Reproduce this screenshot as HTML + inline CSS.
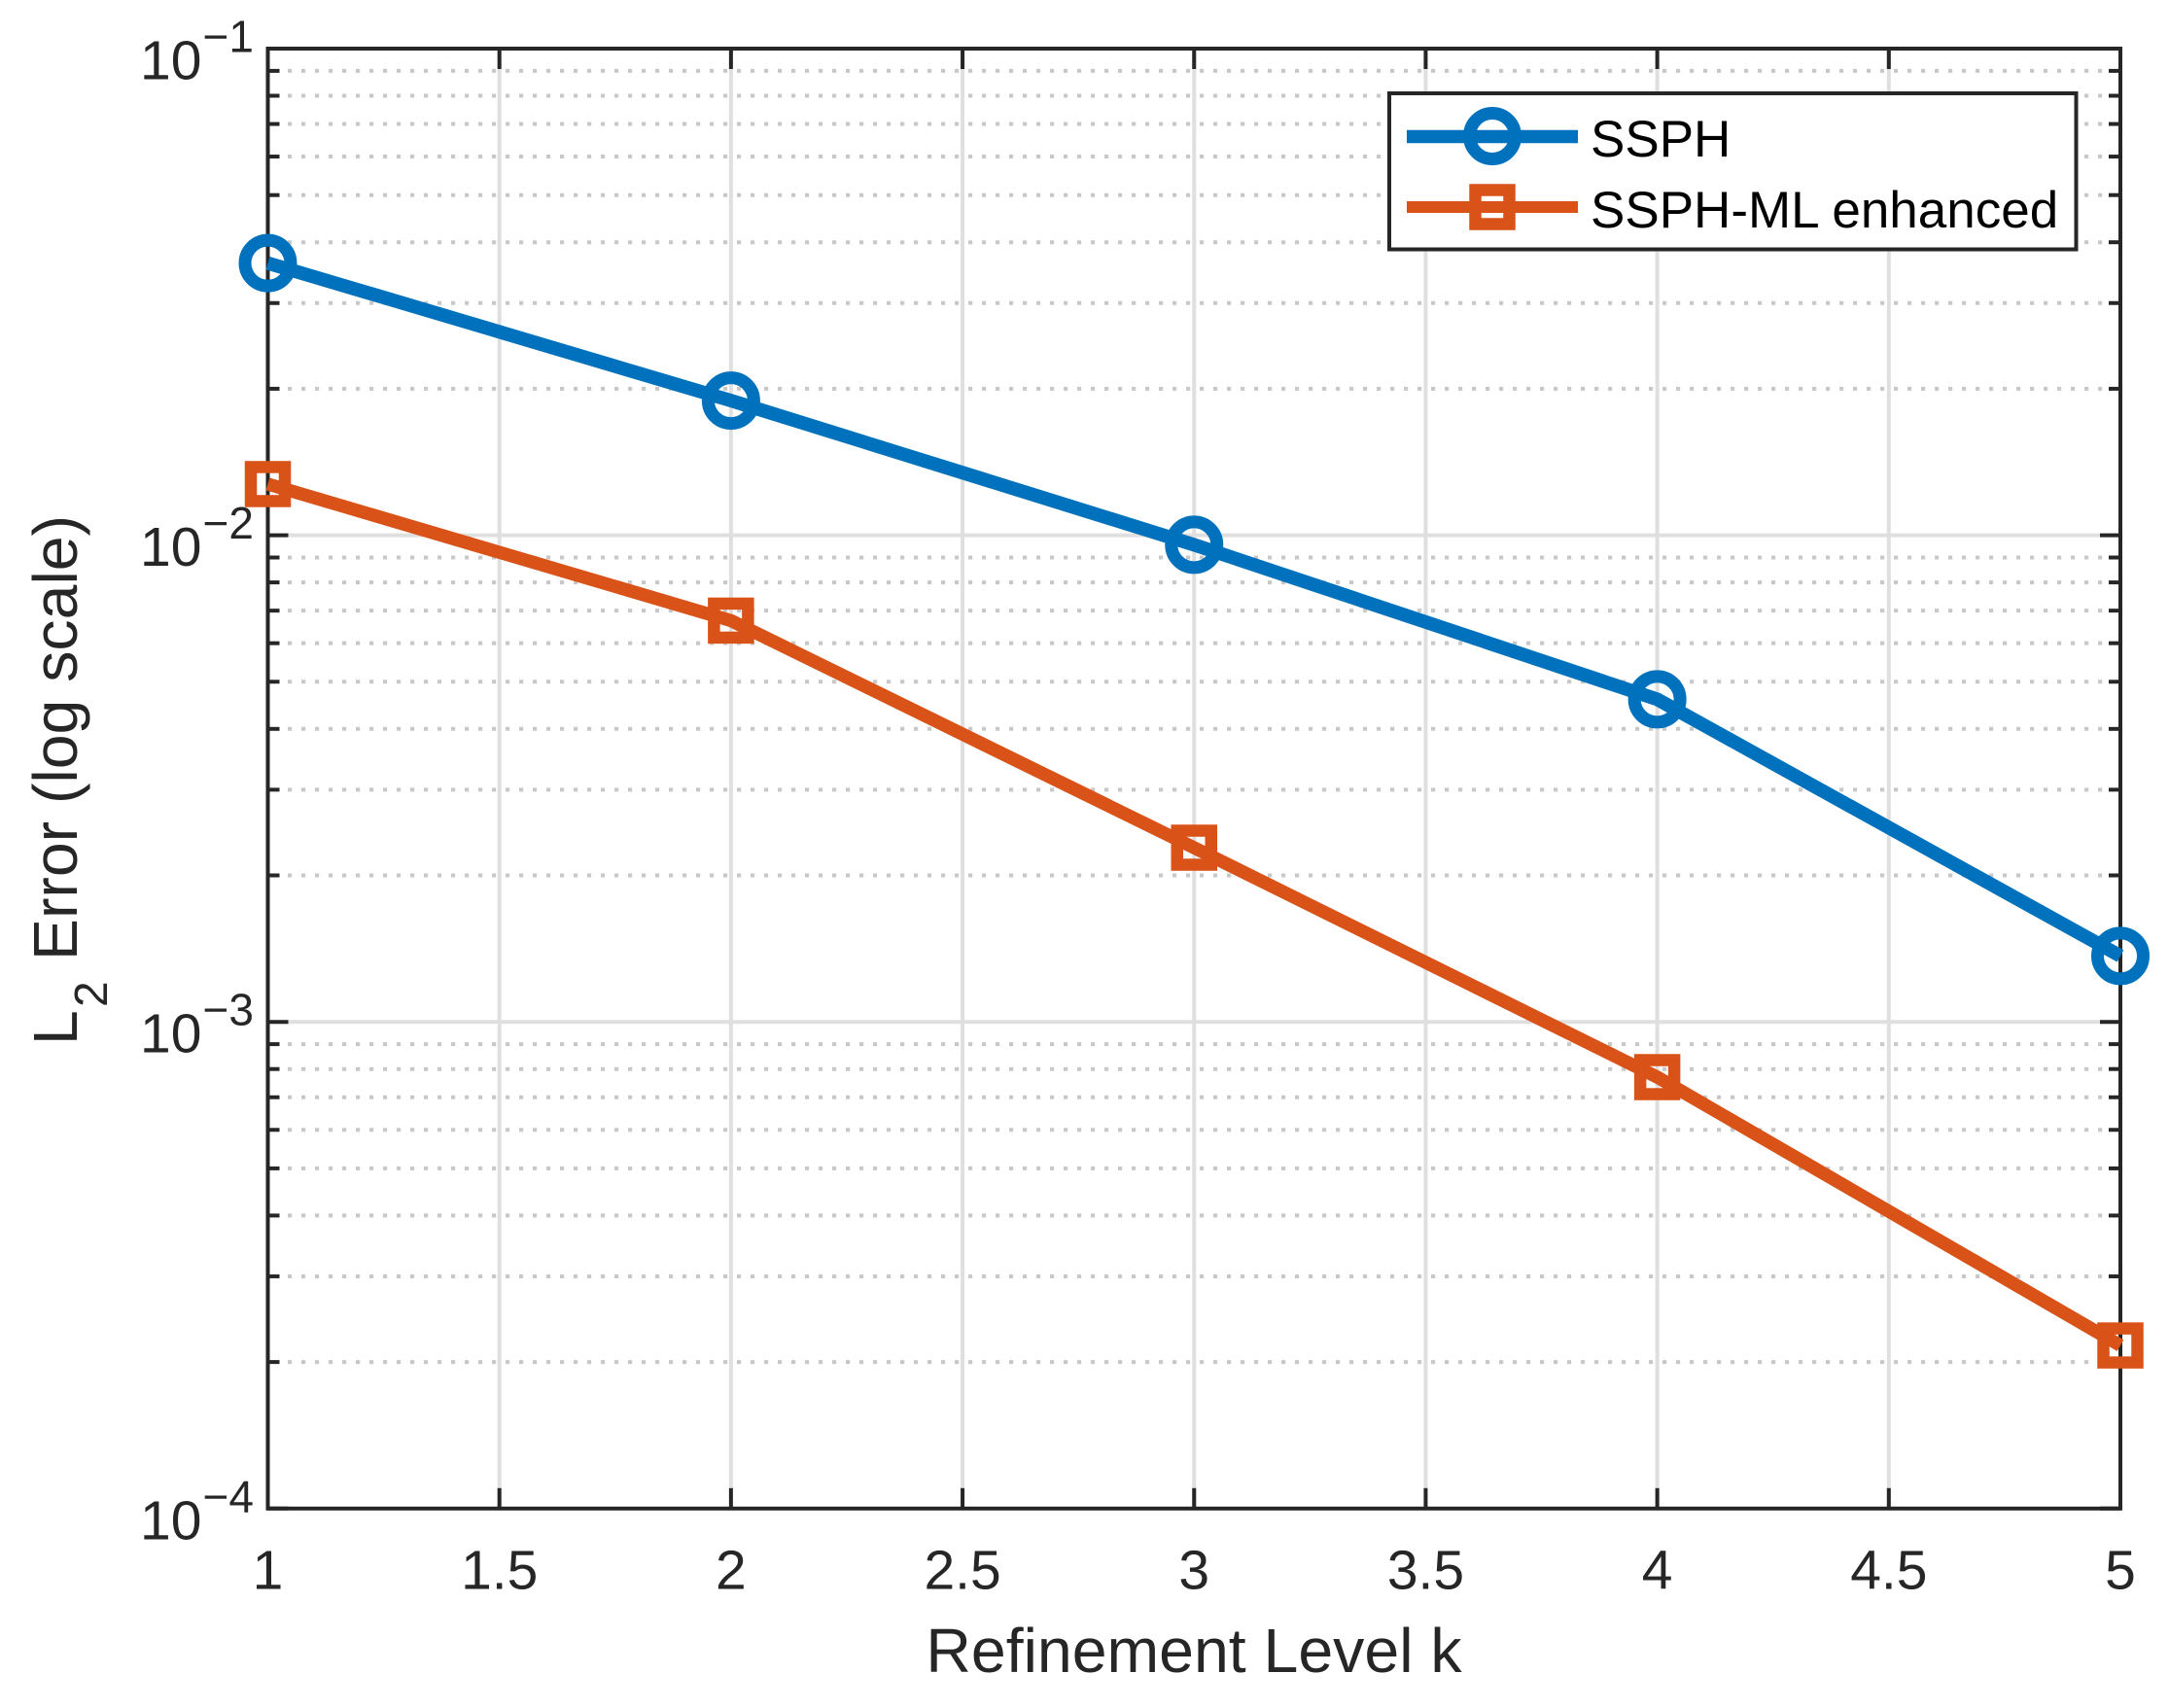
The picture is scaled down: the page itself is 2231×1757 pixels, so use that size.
<!DOCTYPE html>
<html lang="en">
<head>
<meta charset="utf-8">
<title>L2 error vs refinement level</title>
<style>
html,body{margin:0;padding:0;background:#fff;}
svg{display:block;}
text{font-family:"Liberation Sans",Arial,sans-serif;fill:#262626;}
</style>
</head>
<body>
<svg id="chart" xmlns="http://www.w3.org/2000/svg" width="2231" height="1757" viewBox="0 0 2231 1757">
  <rect x="0" y="0" width="2231" height="1757" fill="#ffffff"/>
  <g id="grid"></g>
  <g id="axes"></g>
  <text x="1228" y="1720" font-size="64.4" text-anchor="middle">Refinement Level k</text>
  <g>
    <text transform="translate(79,1075) rotate(-90)" font-size="64.4">L</text>
    <text transform="translate(110,1036) rotate(-90)" font-size="48">2</text>
    <text transform="translate(79,988) rotate(-90)" font-size="64.4">Error (log scale)</text>
  </g>
  <g id="series"></g>
  <g id="legend">
    <rect x="1429" y="96" width="706.5" height="160.5" fill="#ffffff" stroke="#262626" stroke-width="4"/>
    <line x1="1447" y1="140.5" x2="1623" y2="140.5" stroke="#0072bd" stroke-width="13.5"/>
    <circle cx="1535" cy="140" r="23.5" fill="none" stroke="#0072bd" stroke-width="13"/>
    <text x="1636" y="161" font-size="53" style="fill:#000">SSPH</text>
    <line x1="1447" y1="213" x2="1623" y2="213" stroke="#d95319" stroke-width="12"/>
    <rect x="1517.5" y="195.5" width="35" height="35" fill="none" stroke="#d95319" stroke-width="12.5"/>
    <text x="1636" y="234" font-size="53" style="fill:#000">SSPH-ML enhanced</text>
  </g>
</svg>
<script>
// ---- chart data ----
const levels = [1, 2, 3, 4, 5];
const ssphErrors = [0.03624, 0.01891, 0.00956, 0.004601, 0.001366];
const ssphMlErrors = [0.01274, 0.006677, 0.00228, 0.00077, 0.0002163];
const xTickValues = [1, 1.5, 2, 2.5, 3, 3.5, 4, 4.5, 5];
const xTickLabels = ['1', '1.5', '2', '2.5', '3', '3.5', '4', '4.5', '5'];
const yDecades = [-1, -2, -3, -4];
const yExponentLabels = ['\u22121', '\u22122', '\u22123', '\u22124'];
const minorMultipliers = [2, 3, 4, 5, 6, 7, 8, 9];

// ---- axis functions ----
const plotLeft = 275.5, plotRight = 2181, plotTop = 50, plotBottom = 1551.8;
const xMin = 1, xMax = 5, logMin = -4, logMax = -1;
function xScale(v) { return plotLeft + (v - xMin) / (xMax - xMin) * (plotRight - plotLeft); }
function yScale(v) { return plotTop + (logMax - Math.log10(v)) / (logMax - logMin) * (plotBottom - plotTop); }

const NS = 'http://www.w3.org/2000/svg';
const ink = '#262626';
function make(tag, attrs, parent) {
  const node = document.createElementNS(NS, tag);
  for (const k in attrs) node.setAttribute(k, attrs[k]);
  parent.appendChild(node);
  return node;
}
const gridG = document.getElementById('grid');
const axesG = document.getElementById('axes');
const seriesG = document.getElementById('series');

// ---- grid ----
yDecades.forEach(function (d) {
  if (d === logMin) return;
  minorMultipliers.forEach(function (m) {
    const y = yScale(m * Math.pow(10, d - 1));
    const g = make('line', { x1: 296, y1: y, x2: plotRight - 15, y2: y, stroke: '#c8c8c8', 'stroke-width': 4, 'stroke-dasharray': '4.2 9.8' }, gridG);
    
    
  });
});
yDecades.forEach(function (d) {
  if (d === logMax || d === logMin) return;
  const y = yScale(Math.pow(10, d));
  const g = make('line', { x1: plotLeft, y1: y, x2: plotRight, y2: y, stroke: '#dfdfdf', 'stroke-width': 4 }, gridG);
  
  
});
xTickValues.forEach(function (v) {
  if (v === xMin || v === xMax) return;
  const x = xScale(v);
  const g = make('line', { x1: x, y1: plotTop, x2: x, y2: plotBottom, stroke: '#dfdfdf', 'stroke-width': 4 }, gridG);
  
  
});

// ---- axes box ----
const box = make('rect', { x: plotLeft, y: plotTop, width: plotRight - plotLeft, height: plotBottom - plotTop, fill: 'none', stroke: ink, 'stroke-width': 4 }, axesG);



// ---- x ticks and labels ----
xTickValues.forEach(function (v, i) {
  const x = xScale(v);
  const t1 = make('line', { x1: x, y1: plotBottom, x2: x, y2: plotBottom - 21, stroke: ink, 'stroke-width': 4 }, axesG);
  
  
  const t2 = make('line', { x1: x, y1: plotTop, x2: x, y2: plotTop + 21, stroke: ink, 'stroke-width': 4 }, axesG);
  
  
  const lab = make('text', { x: x, y: 1634.5, 'font-size': 57, 'text-anchor': 'middle' }, axesG);
  
  
  lab.textContent = xTickLabels[i];
});

// ---- y ticks and labels ----
yDecades.forEach(function (d, i) {
  const y = yScale(Math.pow(10, d));
  const t1 = make('line', { x1: plotLeft, y1: y, x2: plotLeft + 21, y2: y, stroke: ink, 'stroke-width': 4 }, axesG);
  
  
  const t2 = make('line', { x1: plotRight, y1: y, x2: plotRight - 21, y2: y, stroke: ink, 'stroke-width': 4 }, axesG);
  
  
  const base = make('text', { x: 144, y: y + 31.5, 'font-size': 57 }, axesG);
  
  
  base.textContent = '10';
  const exp = make('text', { x: 208.5, y: y + 3.5, 'font-size': 46 }, axesG);
  
  
  exp.textContent = yExponentLabels[i];
  if (d === logMin) return;
  minorMultipliers.forEach(function (m) {
    const my = yScale(m * Math.pow(10, d - 1));
    const a = make('line', { x1: plotLeft, y1: my, x2: plotLeft + 12, y2: my, stroke: ink, 'stroke-width': 4 }, axesG);
    
    
    const b = make('line', { x1: plotRight, y1: my, x2: plotRight - 12, y2: my, stroke: ink, 'stroke-width': 4 }, axesG);
    
    
  });
});

// ---- series ----
function pointsOf(values) {
  return values.map(function (v, i) { return xScale(levels[i]) + ',' + yScale(v); }).join(' ');
}
const blue = '#0072bd', orange = '#d95319';

const ssphLine = make('polyline', { points: pointsOf(ssphErrors), fill: 'none', stroke: blue, 'stroke-width': 14, 'stroke-linejoin': 'round' }, seriesG);


ssphErrors.forEach(function (v, i) {
  const c = make('circle', { cx: xScale(levels[i]), cy: yScale(v), r: 23.5, fill: 'none', stroke: blue, 'stroke-width': 13 }, seriesG);
  
  
});

const mlLine = make('polyline', { points: pointsOf(ssphMlErrors), fill: 'none', stroke: orange, 'stroke-width': 13.5, 'stroke-linejoin': 'round' }, seriesG);


ssphMlErrors.forEach(function (v, i) {
  const s = make('rect', { x: xScale(levels[i]) - 17.5, y: yScale(v) - 17.5, width: 35, height: 35, fill: 'none', stroke: orange, 'stroke-width': 12.5 }, seriesG);
  
  
});
</script>
</body>
</html>
